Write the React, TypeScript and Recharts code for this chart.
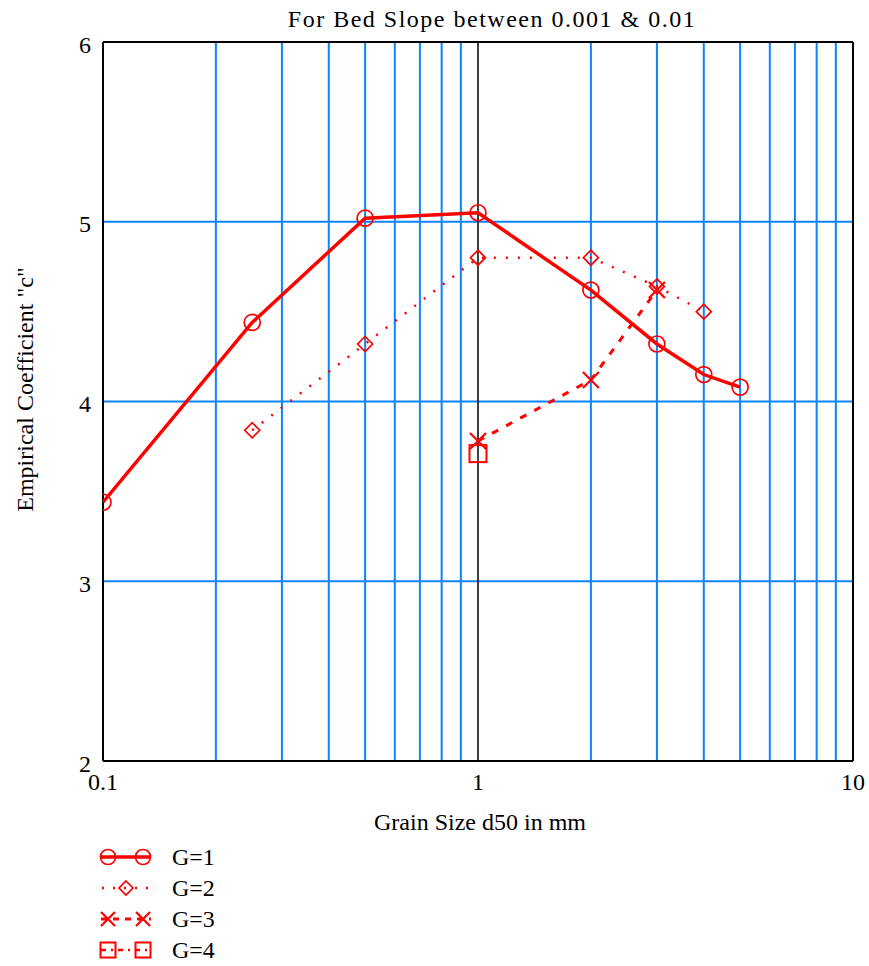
import React from 'react';
import { LineChart, Line, XAxis, YAxis, ReferenceLine } from 'recharts';

const FONT = '"Liberation Serif", "Times New Roman", serif';
const RED = '#ff0000';
const BLUE = '#0a84ff';

const titleText = 'For Bed Slope between 0.001 & 0.01';
const xLabelText = 'Grain Size d50 in mm';
const yLabelText = 'Empirical Coefficient "c"';

const xTicks = [0.1, 1, 10];
const yTicks = [2, 3, 4, 5, 6];
const minorX = [0.2, 0.3, 0.4, 0.5, 0.6, 0.7, 0.8, 0.9, 2, 3, 4, 5, 6, 7, 8, 9];
const majorX = [1];
const gridY = [3, 4, 5];

const g1X = [0.1, 0.25, 0.5, 1, 2, 3, 4, 5];
const g1Y = [3.44, 4.44, 5.02, 5.05, 4.62, 4.32, 4.15, 4.08];
const g2X = [0.25, 0.5, 1, 2, 3, 4];
const g2Y = [3.84, 4.32, 4.8, 4.8, 4.64, 4.5];
const g3X = [1, 2, 3];
const g3Y = [3.78, 4.12, 4.62];
const g4X = [1];
const g4Y = [3.71];

const legendLabels = ['G=1', 'G=2', 'G=3', 'G=4'];

const zip = (xs: number[], ys: number[]) => xs.map((x, i) => ({ x, y: ys[i] }));
const d1 = zip(g1X, g1Y);
const d2 = zip(g2X, g2Y);
const d3 = zip(g3X, g3Y);
const d4 = zip(g4X, g4Y);

const CircleMark = ({ cx, cy, r = 8 }: any) => (
  <circle cx={cx} cy={cy} r={r} fill="none" stroke={RED} strokeWidth={1.7} />
);
const DiamondMark = ({ cx, cy, s = 7.5 }: any) => (
  <path d={`M${cx},${cy - s}L${cx + s},${cy}L${cx},${cy + s}L${cx - s},${cy}Z`} fill="none" stroke={RED} strokeWidth={1.7} />
);
const XMark = ({ cx, cy, s = 8 }: any) => (
  <path d={`M${cx - s},${cy - s}L${cx + s},${cy + s}M${cx + s},${cy - s}L${cx - s},${cy + s}`} fill="none" stroke={RED} strokeWidth={2.2} />
);
const SquareMark = ({ cx, cy, s = 8.5 }: any) => (
  <rect x={cx - s} y={cy - s} width={2 * s} height={2 * s} fill="none" stroke={RED} strokeWidth={2} />
);

const mk = (Comp: any) => (p: any) => (
  <g key={`m-${p.index}`}>
    <Comp cx={p.cx} cy={p.cy} />
  </g>
);

const YLabel = (p: any) => {
  const vb = p.viewBox || {};
  const cy = vb.y + vb.height / 2 - 12;
  return (
    <text x={33} y={cy} transform={`rotate(-90, 33, ${cy})`} textAnchor="middle"
      fontFamily={FONT} fontSize={24} fill="#000">{yLabelText}</text>
  );
};
const XLabel = (p: any) => {
  const vb = p.viewBox || {};
  const cx = vb.x + vb.width / 2;
  return (
    <text x={cx + 2} y={830} textAnchor="middle" fontFamily={FONT} fontSize={24} fill="#000">{xLabelText}</text>
  );
};

const LegendRow = ({ i, label }: { i: number; label: string }) => {
  const y = 857 + i * 31;
  const a = 108, b = 143;
  let line: any = null;
  let marks: any = null;
  if (i === 0) {
    line = <line x1={101} x2={151} y1={y} y2={y} stroke={RED} strokeWidth={3.5} />;
    marks = <><CircleMark cx={a} cy={y} r={7.5} /><CircleMark cx={b} cy={y} r={7.5} /></>;
  } else if (i === 1) {
    line = <line x1={102} x2={152} y1={y} y2={y} stroke={RED} strokeWidth={2.5} strokeDasharray="2 9" />;
    marks = <DiamondMark cx={126} cy={y} s={7} />;
  } else if (i === 2) {
    line = <line x1={101} x2={151} y1={y} y2={y} stroke={RED} strokeWidth={3} strokeDasharray="6 6" />;
    marks = <><XMark cx={a} cy={y} s={7} /><XMark cx={b} cy={y} s={7} /></>;
  } else {
    line = <line x1={101} x2={151} y1={y} y2={y} stroke={RED} strokeWidth={2.5} strokeDasharray="5 5 2 5" />;
    marks = <><SquareMark cx={a} cy={y} s={7.5} /><SquareMark cx={b} cy={y} s={7.5} /></>;
  }
  return (
    <g>
      {line}
      {marks}
      <text x={172} y={y + 8} fontFamily={FONT} fontSize={24} fill="#000">{label}</text>
    </g>
  );
};

export default function App() {
  return (
    <div style={{ position: 'absolute', left: 0, top: 0, width: 869, height: 966, background: '#fff' }}>
      <LineChart width={869} height={966} data={d1} margin={{ top: 42, right: 16, bottom: 145, left: 0 }}>
        <XAxis type="number" dataKey="x" scale="log" domain={[0.1, 10]} ticks={xTicks} allowDataOverflow
          axisLine={false} tickLine={false} tickSize={0} tickMargin={12} height={60}
          tick={{ fontFamily: FONT, fontSize: 24, fill: '#000' }} tickFormatter={(v: number) => String(v)}
          label={<XLabel />} />
        <YAxis type="number" domain={[2, 6]} ticks={yTicks} allowDataOverflow width={103}
          axisLine={false} tickLine={false} tickSize={0} tickMargin={12}
          tick={{ fontFamily: FONT, fontSize: 24, fill: '#000', dy: 2 }} label={<YLabel />} />
        {gridY.map((v) => <ReferenceLine key={`gy${v}`} y={v} stroke={BLUE} strokeWidth={2} />)}
        {minorX.map((v) => <ReferenceLine key={`gx${v}`} x={v} stroke={BLUE} strokeWidth={2} />)}
        {majorX.map((v) => <ReferenceLine key={`mx${v}`} x={v} stroke="#000" strokeWidth={1.5} />)}
        <ReferenceLine y={6} stroke="#000" strokeWidth={2} />
        <ReferenceLine y={2} stroke="#000" strokeWidth={2} />
        <ReferenceLine x={0.1} stroke="#000" strokeWidth={2} />
        <ReferenceLine x={10} stroke="#000" strokeWidth={2} />
        <Line data={d1} dataKey="y" type="linear" stroke={RED} strokeWidth={3.5} dot={mk(CircleMark)} activeDot={false} isAnimationActive={false} />
        <Line data={d2} dataKey="y" type="linear" stroke={RED} strokeWidth={2.5} strokeDasharray="2 10" dot={mk(DiamondMark)} activeDot={false} isAnimationActive={false} />
        <Line data={d3} dataKey="y" type="linear" stroke={RED} strokeWidth={3} strokeDasharray="7 9" dot={mk(XMark)} activeDot={false} isAnimationActive={false} />
        <Line data={d4} dataKey="y" type="linear" stroke={RED} strokeWidth={2} dot={mk(SquareMark)} activeDot={false} isAnimationActive={false} />
      </LineChart>
      <svg width={869} height={966} style={{ position: 'absolute', left: 0, top: 0, pointerEvents: 'none' }}>
        <text x={492} y={27} textAnchor="middle" fontFamily={FONT} fontSize={24} letterSpacing={1.5} fill="#000">{titleText}</text>
        {legendLabels.map((l, i) => <LegendRow key={l} i={i} label={l} />)}
      </svg>
    </div>
  );
}
